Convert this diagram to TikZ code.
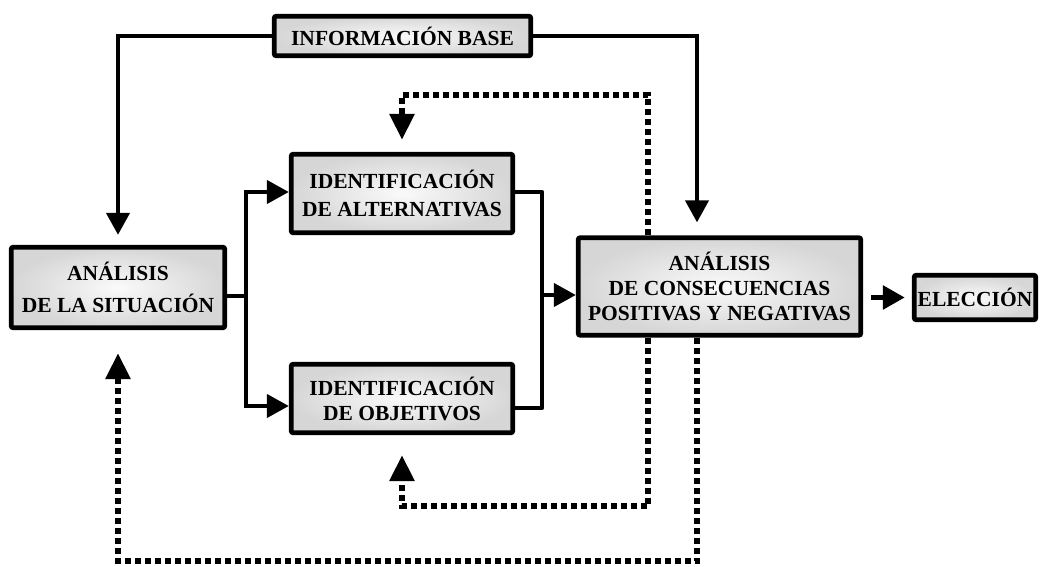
\documentclass[tikz,border=0pt]{standalone}
\usepackage{fontspec}
\setmainfont{Liberation Serif}
\usetikzlibrary{arrows.meta,calc}

\begin{document}
\begin{tikzpicture}[x=1pt,y=-1pt,
  box/.style={draw=black, line width=4.8pt, rounded corners=2pt,
    inner sep=0pt, align=center, text=black,
    inner color=gray!4, outer color=gray!32,
    font=\fontsize{21.5}{26}\selectfont\bfseries},
  link/.style={line width=4.2pt, draw=black},
  linkarrow/.style={link, -{Triangle[length=22pt,width=23pt]}},
  loop/.style={draw=black, line width=6pt, dash pattern=on 6pt off 4pt,
    -{Triangle[length=26pt,width=24pt]}}
]
\useasboundingbox (0,0) rectangle (1042,567);

% boxes
\node[box, minimum width=256.5pt, minimum height=39.5pt] (info) at (402.5,36) {INFORMACIÓN BASE};
\node[box, minimum width=213.5pt, minimum height=80.5pt] (sit) at (118,287.5)
  {ANÁLISIS\\[6pt] DE LA SITUACIÓN};
\node[box, minimum width=221.5pt, minimum height=78.5pt] (alt) at (402,193.5)
  {IDENTIFICACIÓN\\[2pt] DE ALTERNATIVAS};
\node[box, minimum width=221.5pt, minimum height=68.5pt] (obj) at (402,398.5)
  {IDENTIFICACIÓN\\[-1pt] DE OBJETIVOS};
\node[box, minimum width=282.5pt, minimum height=97.5pt] (cons) at (719.5,286.5)
  {ANÁLISIS\\[-1pt] DE CONSECUENCIAS\\[-1pt] POSITIVAS Y NEGATIVAS};
\node[box, minimum width=121.5pt, minimum height=44.5pt] (elec) at (975,297.5) {ELECCIÓN};

% base information feeds both analyses
\draw[linkarrow, shorten >=10pt] (info.west) -| (sit.north);
\draw[linkarrow] (info.east) -| ([xshift=-22.5pt,yshift=13pt]cons.north);

% fork from the situation to alternatives and objectives
\coordinate (fork) at (246,296);
\draw[link] ([yshift=-8.5pt]sit.east) -- (fork);
\draw[linkarrow] (fork) |- ([yshift=1.5pt]alt.west);
\draw[linkarrow] (fork) |- ([yshift=-7.5pt]obj.west);

% merge into the analysis of consequences
\coordinate (merge) at (542,295);
\draw[link, line join=round] ([yshift=1.5pt]alt.east) -| (merge) |- ([yshift=-9.5pt]obj.east);
\draw[linkarrow] (merge) -- (merge -| cons.west);

% choice
\draw[linkarrow, line width=5.5pt, shorten <=8pt, shorten >=7pt] (cons.east |- elec.west) -- (elec.west);

% feedback loops
\draw[loop] ([xshift=-71.5pt]cons.north) |- ([yshift=57pt]alt.north) -- ([yshift=12pt]alt.north);
\draw[loop] ([xshift=-71.5pt]cons.south) |- ([yshift=-71pt]obj.south) -- ([yshift=-20pt]obj.south);
\draw[loop] ([xshift=-22.5pt]cons.south) |- ([yshift=-231pt]sit.south) -- ([yshift=-23pt]sit.south);
\end{tikzpicture}
\end{document}
